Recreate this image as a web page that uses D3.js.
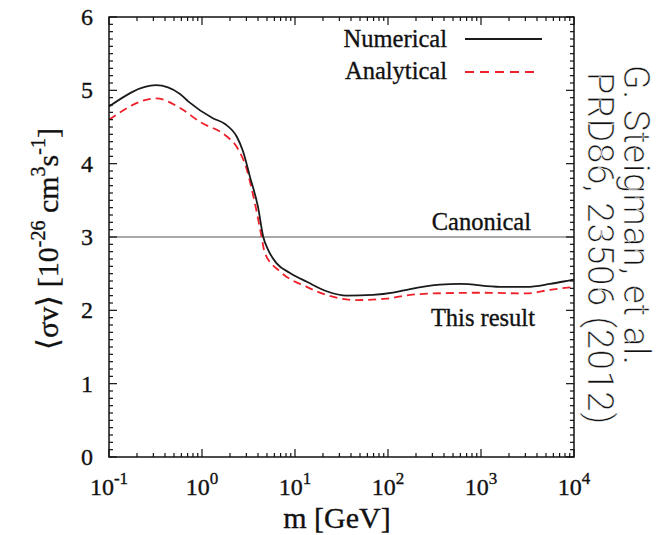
<!DOCTYPE html>
<html>
<head>
<meta charset="utf-8">
<script src="https://cdn.jsdelivr.net/npm/d3@7"></script>
<style>
  html, body { margin: 0; padding: 0; background: #fff; }
  svg { display: block; }
  .serif { font-family: "Liberation Serif", "Times New Roman", serif; }
</style>
</head>
<body>
<svg id="chart" width="663" height="535"></svg>
<script>
// ---- data ----
const numericalM = [0.1, 0.32, 0.58, 0.71, 1.31, 1.77, 2.36, 2.76, 3.28, 4.0, 4.56, 5.16, 6.35, 8.83, 13.4, 21.9, 36, 69, 113, 173, 362, 594, 1600, 3100, 5520, 9060, 10000];
const numericalSV = [4.78, 5.07, 4.95, 4.85, 4.62, 4.54, 4.37, 4.17, 3.82, 3.41, 3.0, 2.82, 2.64, 2.51, 2.39, 2.26, 2.20, 2.21, 2.24, 2.29, 2.35, 2.36, 2.32, 2.32, 2.36, 2.41, 2.42];
const analyticalM = [0.1, 0.32, 0.58, 0.95, 1.85, 2.36, 3.03, 3.72, 4.3, 4.75, 6.9, 13.4, 21.9, 46, 97, 173, 305, 1050, 3100, 5520, 10000];
const analyticalSV = [4.60, 4.89, 4.76, 4.57, 4.37, 4.23, 3.92, 3.45, 3.05, 2.78, 2.53, 2.32, 2.21, 2.14, 2.16, 2.21, 2.23, 2.24, 2.23, 2.28, 2.32];
const canonicalSV = 3;
const xTickExponents = [-1, 0, 1, 2, 3, 4];
const yTicks = [0, 1, 2, 3, 4, 5, 6];
const legendLabels = ["Numerical", "Analytical"];

// ---- layout ----
const svg = d3.select("#chart");
const L = 109, R = 574, T = 17, B = 457;
const x = d3.scaleLog().domain([0.1, 1e4]).range([L, R]);
const y = d3.scaleLinear().domain([0, 6]).range([B, T]);

const xMinor = [];
for (let e = -1; e < 4; e++) for (let k = 2; k <= 9; k++) xMinor.push(k * Math.pow(10, e));
const yMinor = d3.range(0, 60).map(i => i / 10).filter(v => Math.abs(v - Math.round(v)) > 1e-6);

const g = svg.append("g");

// canonical line
g.append("line")
  .attr("x1", L).attr("x2", R)
  .attr("y1", y(canonicalSV)).attr("y2", y(canonicalSV))
  .attr("stroke", "#555").attr("stroke-width", 1.2);

// curves
const line = d3.line().x(d => x(d[0])).y(d => y(d[1])).curve(d3.curveMonotoneX);
const numData = numericalM.map((m, i) => [m, numericalSV[i]]);
const anaData = analyticalM.map((m, i) => [m, analyticalSV[i]]);

g.append("path").datum(anaData).attr("d", line)
  .attr("fill", "none").attr("stroke", "#f0202a").attr("stroke-width", 1.8)
  .attr("stroke-dasharray", "8,5");
g.append("path").datum(numData).attr("d", line)
  .attr("fill", "none").attr("stroke", "#1a1a1a").attr("stroke-width", 1.8);

// ticks
const tk = g.append("g").attr("stroke", "#111").attr("stroke-width", 1.2);
xTickExponents.forEach(e => {
  const px = x(Math.pow(10, e));
  tk.append("line").attr("x1", px).attr("x2", px).attr("y1", B).attr("y2", B - 8);
  tk.append("line").attr("x1", px).attr("x2", px).attr("y1", T).attr("y2", T + 8);
});
xMinor.forEach(v => {
  const px = x(v);
  tk.append("line").attr("x1", px).attr("x2", px).attr("y1", B).attr("y2", B - 4);
  tk.append("line").attr("x1", px).attr("x2", px).attr("y1", T).attr("y2", T + 4);
});
yTicks.forEach(v => {
  const py = y(v);
  tk.append("line").attr("x1", L).attr("x2", L + 8).attr("y1", py).attr("y2", py);
  tk.append("line").attr("x1", R).attr("x2", R - 8).attr("y1", py).attr("y2", py);
});
yMinor.forEach(v => {
  const py = y(v);
  tk.append("line").attr("x1", L).attr("x2", L + 4).attr("y1", py).attr("y2", py);
  tk.append("line").attr("x1", R).attr("x2", R - 4).attr("y1", py).attr("y2", py);
});

// frame
g.append("rect").attr("x", L).attr("y", T).attr("width", R - L).attr("height", B - T)
  .attr("fill", "none").attr("stroke", "#111").attr("stroke-width", 1.5);

// heavier serif text helper (approximates the blurred, heavy look of the reference)
function heavy(sel) {
  return sel.attr("class", "serif").attr("fill", "#111")
    .attr("stroke", "#111").attr("stroke-width", 0.35);
}

// y tick labels
heavy(g.selectAll(".ylab").data(yTicks).enter().append("text"))
  .attr("x", 93).attr("y", d => y(d) + 8)
  .attr("text-anchor", "end").attr("font-size", 24)
  .text(d => d);

// x tick labels
xTickExponents.forEach(e => {
  const t = heavy(g.append("text"))
    .attr("x", x(Math.pow(10, e))).attr("y", 495)
    .attr("text-anchor", "middle").attr("font-size", 24);
  t.append("tspan").text("10");
  t.append("tspan").attr("font-size", 17).attr("dy", -11).text(String(e));
});

// axis titles
heavy(g.append("text"))
  .attr("x", 337).attr("y", 528).attr("text-anchor", "middle")
  .attr("font-size", 30)
  .text("m [GeV]");

const yt = heavy(g.append("text"))
  .attr("transform", "translate(58,239) rotate(-90)")
  .attr("text-anchor", "middle").attr("font-size", 30);
yt.append("tspan").text("\u27E8\u03C3v\u27E9 [10");
yt.append("tspan").attr("font-size", 20).attr("dy", -13).text("-26");
yt.append("tspan").attr("dy", 13).text(" cm");
yt.append("tspan").attr("font-size", 20).attr("dy", -13).text("3");
yt.append("tspan").attr("dy", 13).text("s");
yt.append("tspan").attr("font-size", 20).attr("dy", -13).text("-1");
yt.append("tspan").attr("dy", 13).text("]");

// legend
const leg = g.append("g");
heavy(leg.append("text")).attr("x", 447).attr("y", 47)
  .attr("text-anchor", "end").attr("font-size", 24.5).text(legendLabels[0]);
leg.append("line").attr("x1", 465).attr("x2", 542).attr("y1", 39).attr("y2", 39)
  .attr("stroke", "#1a1a1a").attr("stroke-width", 1.8);
heavy(leg.append("text")).attr("x", 447).attr("y", 79)
  .attr("text-anchor", "end").attr("font-size", 24.5).text(legendLabels[1]);
leg.append("line").attr("x1", 465).attr("x2", 540).attr("y1", 72).attr("y2", 72)
  .attr("stroke", "#f0202a").attr("stroke-width", 1.8).attr("stroke-dasharray", "9,6");

// annotations
heavy(g.append("text")).attr("x", 531).attr("y", 230)
  .attr("text-anchor", "end").attr("font-size", 24.5).text("Canonical");
heavy(g.append("text")).attr("x", 535).attr("y", 326)
  .attr("text-anchor", "end").attr("font-size", 24.5).text("This result");

// citation (rotated)
const citeFont = "Roboto, 'Open Sans', sans-serif";
[["G. Steigman, et al.", 624, 65], ["PRD86, 23506 (2012)", 588, 72]].forEach(([s, cx, cy]) => {
  g.append("text").attr("transform", `translate(${cx},${cy}) rotate(90)`)
    .attr("font-family", citeFont).attr("font-weight", 300).attr("font-size", 36)
    .attr("letter-spacing", 0.9).attr("fill", "#111")
    .attr("stroke", "#fff").attr("stroke-width", 0.45).attr("paint-order", "fill")
    .text(s);
});
</script>
</body>
</html>
